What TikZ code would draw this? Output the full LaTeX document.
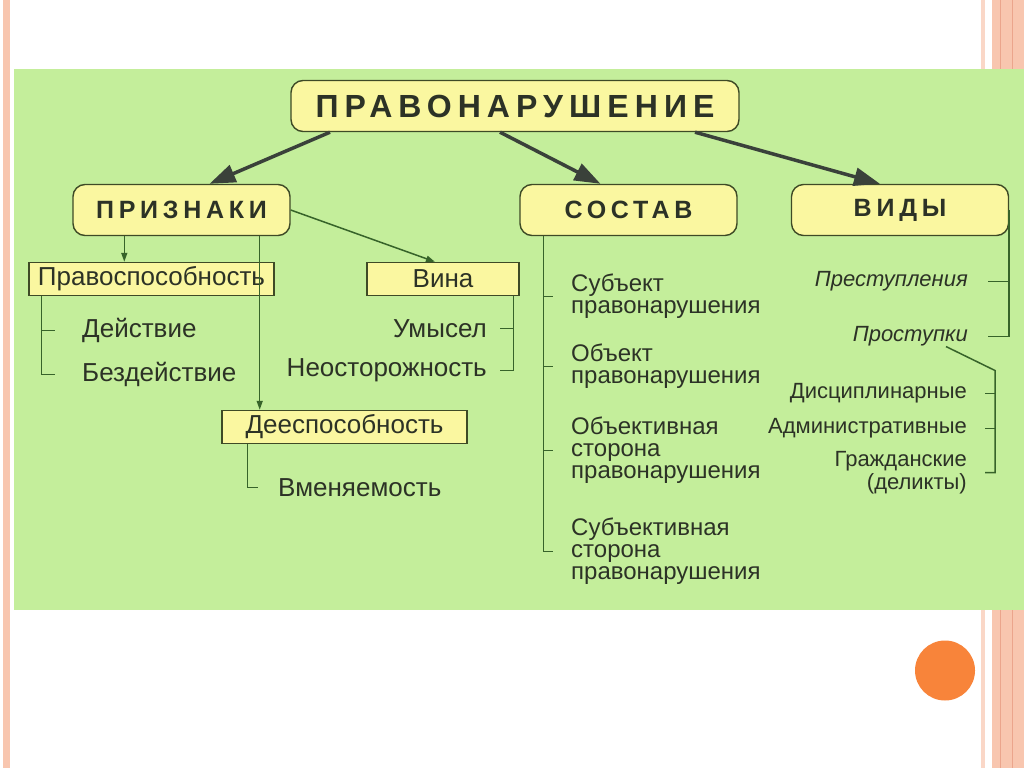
\documentclass[tikz,border=0pt]{standalone}
\usepackage{fontspec}
\setmainfont{Liberation Sans}
\newfontfamily\spacedfont[LetterSpace=19]{Liberation Sans}
\usetikzlibrary{shapes,arrows.meta,positioning}

\definecolor{meadow}{HTML}{C4EE9B}
\definecolor{pale}{HTML}{FAF7A0}
\definecolor{edge}{HTML}{3E4A26}
\definecolor{ink}{HTML}{2C3226}
\definecolor{twig}{HTML}{37632A}
\definecolor{shaft}{HTML}{3A413A}
\definecolor{stripe}{HTML}{F8C6AF}
\definecolor{stripedark}{HTML}{EBA58C}
\definecolor{dot}{HTML}{F8843A}

\newcommand{\titlefont}{\spacedfont\bfseries\fontsize{32}{34}\selectfont}
\newcommand{\headfont}{\spacedfont\bfseries\fontsize{25}{27}\selectfont}

\begin{document}
\begin{tikzpicture}[
			x=1pt, y=-1pt,
			head/.style={rectangle, rounded corners=12pt, draw=edge, fill=pale, line width=1.4pt, text=ink, font=\headfont, minimum width=217pt, minimum height=51pt},
			box/.style={rectangle, draw=edge, fill=pale, line width=1.4pt, text=ink, font=\fontsize{26}{28}\selectfont, minimum height=33pt, inner sep=0pt},
			item/.style={text=ink, inner sep=0pt, font=\fontsize{26}{28}\selectfont},
			part/.style={item, align=left, font=\fontsize{24}{22}\selectfont},
			kind/.style={item, align=right, font=\fontsize{22}{23}\selectfont},
			line/.style={draw=twig, line width=1.5pt},
			arr/.style={line, -{Triangle[length=9pt,width=6pt]}},
			bigarrow/.style={draw=shaft, line width=3.5pt, -{Triangle[length=26pt,width=18pt]}}
		]
		% slide
		\fill[white] (0,0) rectangle (1024,767);
		\fill[stripe] (3,0) rectangle (10,767);
		\fill[stripe!70] (981,0) rectangle (985,767);
		\fill[stripe] (992,0) rectangle (1024,767);
		\draw[stripedark, line width=1pt] (1000,0) -- (1000,767) (1012,0) -- (1012,767);
		\fill[meadow] (14,68) rectangle (1024,609);
		\fill[dot] (945,670) circle (30);

		\node[head, minimum width=448pt, font=\titlefont] (law) at (515,105.5) {ПРАВОНАРУШЕНИЕ};
		\node[head] (signs) at (181.5,209.5) {ПРИЗНАКИ};
		\node[head] (content) at (628.5,209.5) {СОСТАВ};
		\node[head] (kinds) at (900,209.5) {ВИДЫ};

		\draw[bigarrow] ([xshift=-185pt]law.south) -- ([xshift=28pt]signs.north);
		\draw[bigarrow] ([xshift=-15pt]law.south) -- ([xshift=-28pt]content.north);
		\draw[bigarrow] ([xshift=180pt]law.south) -- ([xshift=-20pt]kinds.north);

		% signs
		\node[box, minimum width=245pt] (capacity) at (151.5,278.5) {Правоспособность};
		\node[box, minimum width=152pt] (guilt) at (443,278.5) {Вина};
		\node[box, minimum width=245pt] (competence) at (344.5,426.5) {Дееспособность};

		\node[item, anchor=west] (act) at (82,330) {Действие};
		\node[item, anchor=west] (inact) at (82,374) {Бездействие};
		\node[item, anchor=east] (intent) at (487,328) {Умысел};
		\node[item, anchor=east] (neglect) at (487,370) {Неосторожность};
		\node[item, anchor=west] (sanity) at (278,487) {Вменяемость};

		\draw[arr] ([xshift=52pt]signs.south west) -- ([xshift=52pt]signs.south west |- capacity.north);
		\draw[arr] ([xshift=-31pt]signs.south east) -- ([xshift=-31pt]signs.south east |- competence.north);
		\draw[arr] (signs.east) -- ([xshift=-8pt]guilt.north);

		\coordinate (cbus) at ([xshift=13pt]capacity.south west);
		\draw[line, shorten >=27pt] (cbus) |- (inact.west);
		\draw[line, shorten >=27pt] (cbus |- act.west) -- (act.west);
		\coordinate (gbus) at ([xshift=-6pt]guilt.south east);
		\draw[line, shorten >=13pt] (gbus) |- (neglect.east);
		\draw[line, shorten >=13pt] (gbus |- intent.east) -- (intent.east);
		\coordinate (dbus) at ([xshift=26pt]competence.south west);
		\draw[line, shorten >=20pt] (dbus) |- (sanity.west);

		% content
		\node[part, anchor=west] (c1) at (571,296) {Субъект\\правонарушения};
		\node[part, anchor=west] (c2) at (571,366) {Объект\\правонарушения};
		\node[part, anchor=west] (c3) at (571,450) {Объективная\\сторона\\правонарушения};
		\node[part, anchor=west] (c4) at (571,551) {Субъективная\\сторона\\правонарушения};

		\coordinate (sbus) at ([xshift=24pt]content.south west);
		\draw[line, shorten >=18pt] (sbus) |- (c4.west);
		\foreach \n in {c1,c2,c3}
			\draw[line, shorten >=18pt] (sbus |- \n.west) -- (\n.west);

		% kinds
		\node[kind, anchor=east, font=\itshape\fontsize{22}{23}\selectfont] (crime) at (968,281) {Преступления};
		\node[kind, anchor=east, font=\itshape\fontsize{22}{23}\selectfont] (offence) at (968,336) {Проступки};
		\node[kind, anchor=east] (disc) at (967,393) {Дисциплинарные};
		\node[kind, anchor=east] (admin) at (967,428) {Административные};
		\node[kind, anchor=east] (civil) at (967,472) {Гражданские\\(деликты)};

		\draw[line, shorten >=20pt] (kinds.east) |- (offence.east);
		\draw[line, shorten >=20pt] (kinds.east |- crime.east) -- (crime.east);
		\coordinate (split) at (995,370);
		\draw[line, shorten >=18pt] ([xshift=-22pt]offence.south east) -- (split) |- (civil.east);
		\foreach \n in {disc,admin}
			\draw[line, shorten >=18pt] (split |- \n.east) -- (\n.east);

	\end{tikzpicture}
\end{document}
